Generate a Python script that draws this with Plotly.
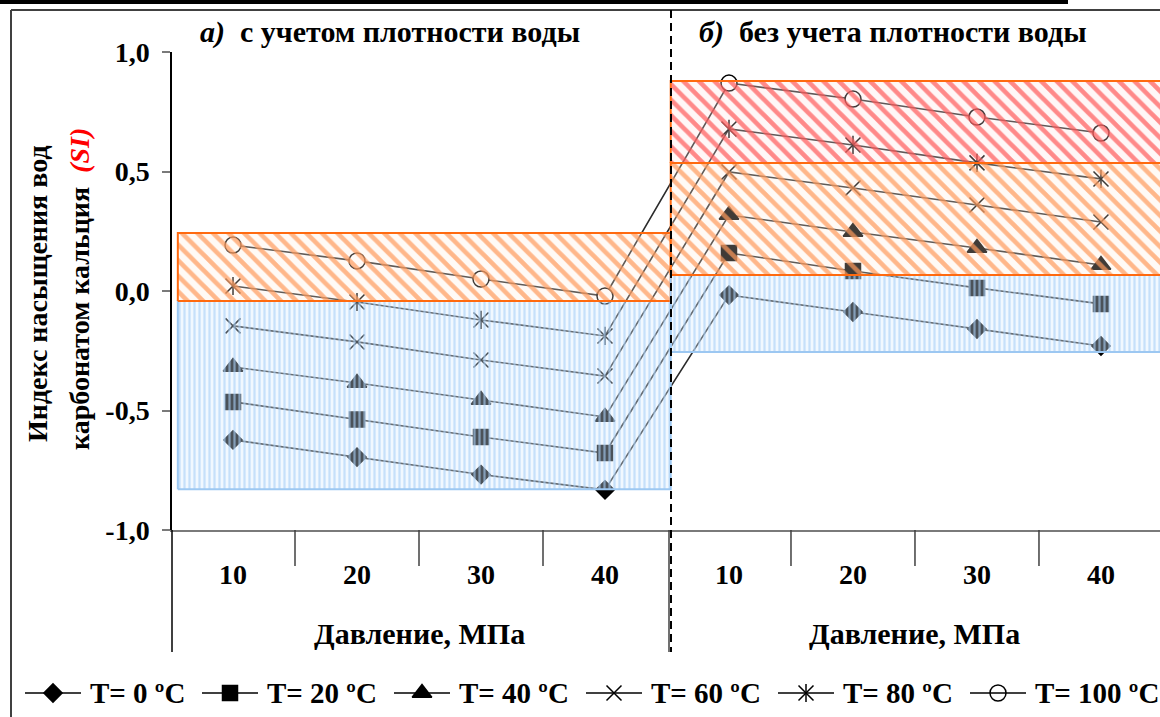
import plotly.graph_objects as go

W, H = 1160, 717

# ---------------- data ----------------
pressures = [10, 20, 30, 40]
panel_titles = ["<i>а)</i>  с учетом плотности воды", "<i>б)</i>  без учета плотности воды"]
x_axis_title = "Давление, МПа"
legend_labels = ["T= 0 ºC", "T= 20 ºC", "T= 40 ºC", "T= 60 ºC", "T= 80 ºC", "T= 100 ºC"]
y_tick_vals = [-1.0, -0.5, 0.0, 0.5, 1.0]
y_tick_text = ["-1,0", "-0,5", "0,0", "0,5", "1,0"]

# а) с учетом плотности воды
a_t0 = [-0.623, -0.695, -0.768, -0.832]
a_t20 = [-0.464, -0.538, -0.611, -0.678]
a_t40 = [-0.318, -0.385, -0.456, -0.527]
a_t60 = [-0.146, -0.213, -0.289, -0.356]
a_t80 = [0.021, -0.046, -0.121, -0.188]
a_t100 = [0.192, 0.126, 0.050, -0.021]
# б) без учета плотности воды
b_t0 = [-0.017, -0.088, -0.159, -0.230]
b_t20 = [0.159, 0.084, 0.013, -0.054]
b_t40 = [0.318, 0.247, 0.180, 0.109]
b_t60 = [0.498, 0.431, 0.360, 0.289]
b_t80 = [0.678, 0.611, 0.536, 0.469]
b_t100 = [0.870, 0.803, 0.728, 0.661]

# hatched zones (SI ranges)
zone_a_blue = [-0.830, -0.042]
zone_a_orange = [-0.042, 0.243]
zone_b_blue = [-0.255, 0.067]
zone_b_orange = [0.067, 0.536]
zone_b_red = [0.536, 0.879]

series_a = [a_t0, a_t20, a_t40, a_t60, a_t80, a_t100]
series_b = [b_t0, b_t20, b_t40, b_t60, b_t80, b_t100]

# ---------------- helpers ----------------
def px(x):
    return x / W

def py(y):
    return 1 - y / H

FONT = "Liberation Serif, Times New Roman, serif"
n = len(pressures)
x_a = list(range(n))
x_b = list(range(n, 2 * n))
x_all = x_a + x_b
cat_labels = [str(p) for p in pressures] * 2

symbols = ["diamond", "square", "triangle-up", "x-thin-open", "x-thin-open", "circle"]
sizes = [14, 15, 17, 15, 15, 16]
fills = ["#000000", "#000000", "#000000", "#000000", "#000000", "#FFFFFF"]
LINE = "#2b2b2b"

fig = go.Figure()

# series lines
for i, lab in enumerate(legend_labels):
    yv = series_a[i] + series_b[i]
    fig.add_trace(go.Scatter(
        x=x_all, y=yv, mode="lines+markers", name=lab, showlegend=False,
        line=dict(color=LINE, width=1.6),
        marker=dict(symbol=symbols[i], size=sizes[i], color=fills[i],
                    line=dict(color="#000000", width=1.5)),
        cliponaxis=False,
    ))
    if i == 4:
        fig.add_trace(go.Scatter(
            x=x_all, y=yv, mode="markers", showlegend=False,
            marker=dict(symbol="line-ns-open", size=13, color="#000000",
                        line=dict(color="#000000", width=1.5)),
            cliponaxis=False,
        ))

# hatched zones (drawn over the markers, like the original)
def zone(x0, x1, yr, edge, fg, bg, shape, size, solidity, op):
    fig.add_trace(go.Scatter(
        x=[x0, x1, x1, x0, x0], y=[yr[0], yr[0], yr[1], yr[1], yr[0]],
        mode="lines", fill="toself", showlegend=False, hoverinfo="skip",
        line=dict(color=edge, width=2),
        fillcolor="rgba(0,0,0,0)",
        fillpattern=dict(shape=shape, fgcolor=fg, bgcolor=bg, size=size,
                         solidity=solidity, fgopacity=op),
    ))

ORANGE = "#FF6A10"
BLUE_EDGE = "#9DC8F2"
zone(-0.445, 3.53, zone_a_blue, BLUE_EDGE, "#A9D0F7", "rgba(215,233,255,0.35)", "|", 5, 0.45, 0.6)
zone(-0.445, 3.53, zone_a_orange, ORANGE, "#FF9A5C", "rgba(255,235,220,0.25)", "\\", 11, 0.42, 0.7)
zone(3.53, 8.2, zone_b_blue, BLUE_EDGE, "#A9D0F7", "rgba(215,233,255,0.35)", "|", 5, 0.45, 0.6)
zone(3.53, 8.2, zone_b_orange, ORANGE, "#FF9A5C", "rgba(255,235,220,0.25)", "\\", 11, 0.42, 0.7)
zone(3.53, 8.2, zone_b_red, ORANGE, "#FF5A5A", "rgba(255,225,225,0.25)", "\\", 11, 0.42, 0.7)

# legend (manual, on a full-page overlay axis)
leg_marker_x = [53, 230, 422, 614, 806, 998]
leg_y = 693
shapes = []
annotations = []
for i, lab in enumerate(legend_labels):
    mx = leg_marker_x[i]
    shapes.append(dict(type="line", xref="paper", yref="paper",
                       x0=px(mx - 28), x1=px(mx + 28), y0=py(leg_y), y1=py(leg_y),
                       line=dict(color="#000000", width=1.5)))
    fig.add_trace(go.Scatter(
        x=[mx], y=[leg_y], xaxis="x2", yaxis="y2", mode="markers", showlegend=False,
        marker=dict(symbol=symbols[i], size=sizes[i], color=fills[i],
                    line=dict(color="#000000", width=1.5)),
        hoverinfo="skip", cliponaxis=False,
    ))
    if i == 4:
        fig.add_trace(go.Scatter(
            x=[mx], y=[leg_y], xaxis="x2", yaxis="y2", mode="markers", showlegend=False,
            marker=dict(symbol="line-ns-open", size=13, color="#000000",
                        line=dict(color="#000000", width=1.5)),
            hoverinfo="skip", cliponaxis=False,
        ))
    annotations.append(dict(x=px(mx + 35), y=py(leg_y), xref="paper", yref="paper",
                            text=lab, showarrow=False, xanchor="left", yanchor="middle",
                            font=dict(family=FONT, size=29, color="#000000", weight="bold")))

# frame and decoration lines
shapes += [
    dict(type="rect", xref="paper", yref="paper", x0=px(0), x1=px(1068), y0=py(0), y1=py(4),
         fillcolor="#000000", line=dict(width=0)),
    dict(type="line", xref="paper", yref="paper", x0=px(11), x1=px(1160), y0=py(10), y1=py(10),
         line=dict(color="#404040", width=2)),
    dict(type="line", xref="paper", yref="paper", x0=px(11), x1=px(11), y0=py(10), y1=py(717),
         line=dict(color="#404040", width=2)),
    dict(type="line", xref="paper", yref="paper", x0=px(172), x1=px(172), y0=py(530), y1=py(652),
         line=dict(color="#000000", width=1.5)),
    dict(type="line", xref="paper", yref="paper", x0=px(669), x1=px(669), y0=py(530), y1=py(652),
         line=dict(color="#404040", width=1.5)),
    dict(type="line", xref="paper", yref="paper", x0=px(671), x1=px(671), y0=py(10), y1=py(652),
         line=dict(color="#000000", width=2, dash="8px,5px")),
]
for b in [0.5, 1.5, 2.5, 4.5, 5.5, 6.5]:
    shapes.append(dict(type="line", xref="x", yref="paper", x0=b, x1=b, y0=py(530), y1=py(566),
                       line=dict(color="#404040", width=1.5)))

# category labels and axis titles
for xi, lab in zip(x_all, cat_labels):
    annotations.append(dict(x=xi, y=py(574), xref="x", yref="paper", text=lab, showarrow=False,
                            xanchor="center", yanchor="middle",
                            font=dict(family=FONT, size=28, color="#000000", weight="bold")))
for xc in [1.5, 5.5]:
    annotations.append(dict(x=xc, y=py(633), xref="x", yref="paper", text=x_axis_title,
                            showarrow=False, xanchor="center", yanchor="middle",
                            font=dict(family=FONT, size=30, color="#000000", weight="bold")))
# panel titles
for xc, t in zip([390, 893], panel_titles):
    annotations.append(dict(x=px(xc), y=py(32), xref="paper", yref="paper", text=t,
                            showarrow=False, xanchor="center", yanchor="middle",
                            font=dict(family=FONT, size=30, color="#000000", weight="bold")))
# y axis title (two lines)
annotations.append(dict(x=px(37), y=py(294), xref="paper", yref="paper",
                        text="Индекс насыщения вод", textangle=-90, showarrow=False,
                        xanchor="center", yanchor="middle",
                        font=dict(family=FONT, size=28, color="#000000", weight="bold")))
annotations.append(dict(x=px(79), y=py(289), xref="paper", yref="paper",
                        text="карбонатом кальция  <span style='color:#FF0000'><i>(SI)</i></span>",
                        textangle=-90, showarrow=False, xanchor="center", yanchor="middle",
                        font=dict(family=FONT, size=28, color="#000000", weight="bold")))

fig.update_layout(
    width=W, height=H,
    margin=dict(l=0, r=0, t=0, b=0, autoexpand=False),
    paper_bgcolor="#FFFFFF", plot_bgcolor="rgba(0,0,0,0)",
    showlegend=False,
    xaxis=dict(domain=[px(172), 1], range=[-0.492, 7.476], showgrid=False, zeroline=False,
               showticklabels=False, ticks="", showline=True, linecolor="#7a7a7a", linewidth=1.5,
               fixedrange=True),
    yaxis=dict(domain=[py(530), py(52)], range=[-1, 1], tickvals=y_tick_vals, ticktext=y_tick_text,
               ticks="outside", ticklen=8, tickcolor="#7a7a7a", tickwidth=1.5, ticklabelstandoff=7,
               showline=True, linecolor="#000000", linewidth=1.5, showgrid=False, zeroline=False,
               tickfont=dict(family=FONT, size=28, color="#000000", weight="bold"),
               fixedrange=True),
    xaxis2=dict(domain=[0, 1], range=[0, W], visible=False, anchor="y2", fixedrange=True),
    yaxis2=dict(domain=[0, 1], range=[H, 0], visible=False, anchor="x2", fixedrange=True),
    shapes=shapes,
    annotations=annotations,
)

fig.write_html(
    "out.html",
    config={"displayModeBar": False},
    post_script="document.body.style.margin='0px';document.body.style.overflow='hidden';",
)
